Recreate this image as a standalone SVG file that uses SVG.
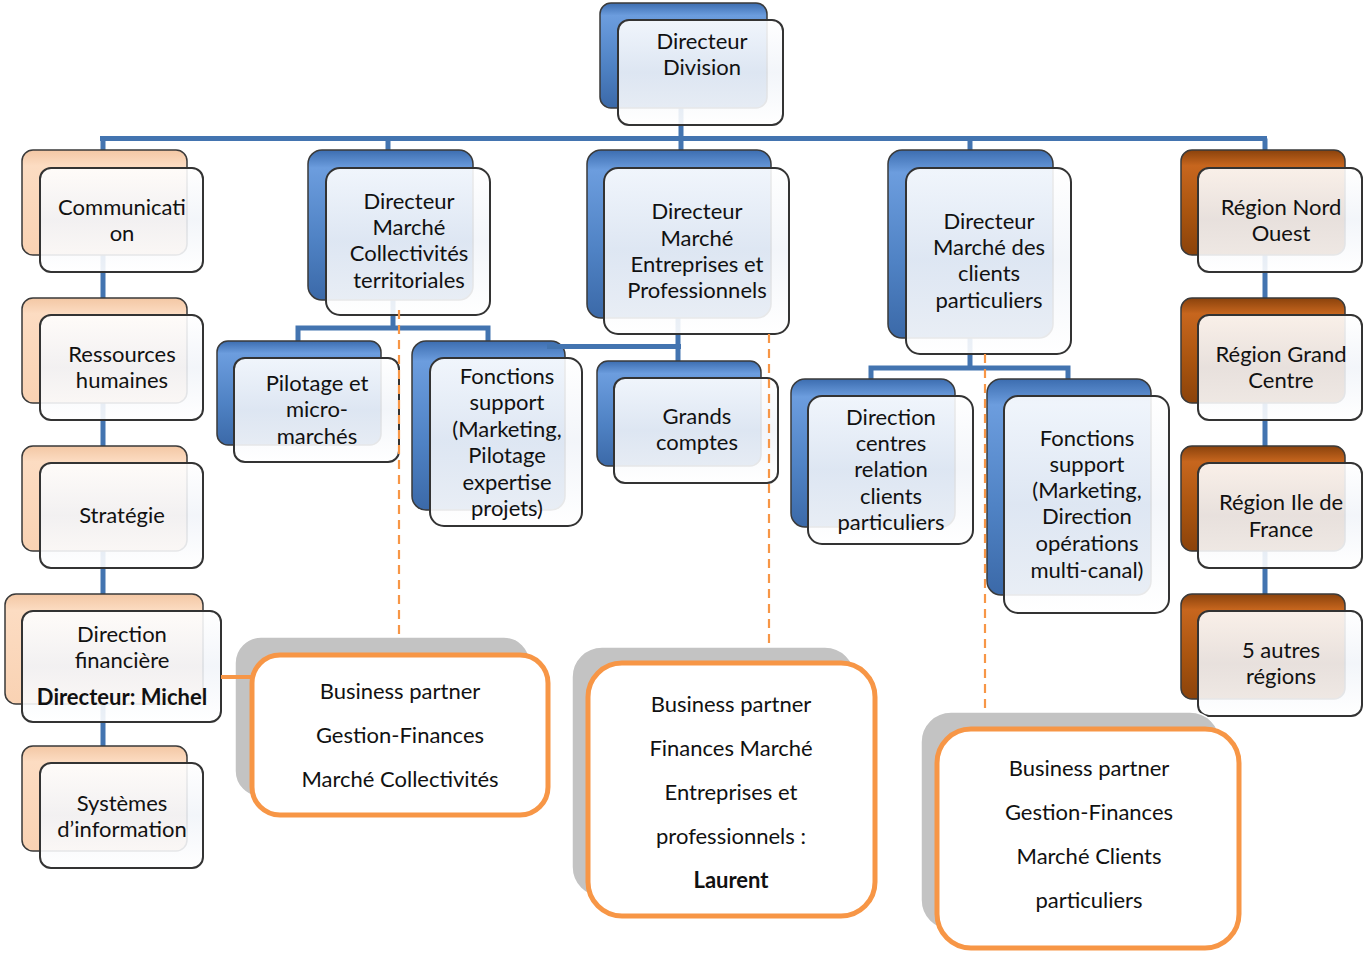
<svg xmlns="http://www.w3.org/2000/svg" width="1365" height="953" viewBox="0 0 1365 953">
<defs>
<linearGradient id="gBlue" x1="0" y1="0" x2="0" y2="1">
<stop offset="0" stop-color="#3c6db0"/><stop offset="0.12" stop-color="#6c9dde"/><stop offset="0.6" stop-color="#4f82c4"/><stop offset="1" stop-color="#3b69a8"/>
</linearGradient>
<linearGradient id="gPeach" x1="0" y1="0" x2="0" y2="1">
<stop offset="0" stop-color="#f3c7a4"/><stop offset="0.15" stop-color="#fcdcc2"/><stop offset="1" stop-color="#f9d2b3"/>
</linearGradient>
<linearGradient id="gBrown" x1="0" y1="0" x2="0" y2="1">
<stop offset="0" stop-color="#8a420c"/><stop offset="0.15" stop-color="#c7661e"/><stop offset="0.6" stop-color="#a9540f"/><stop offset="1" stop-color="#8b430b"/>
</linearGradient>
<linearGradient id="gFront" x1="0" y1="0" x2="0" y2="1">
<stop offset="0" stop-color="#ffffff" stop-opacity="0.9"/><stop offset="0.5" stop-color="#f1f4f9" stop-opacity="0.88"/><stop offset="1" stop-color="#ffffff" stop-opacity="0.9"/>
</linearGradient>
</defs>
<style>
.back{stroke:#3a3a3a;stroke-width:1.5}
.blue{fill:url(#gBlue)}
.peach{fill:url(#gPeach)}
.brown{fill:url(#gBrown)}
.front{fill:url(#gFront);stroke:#333333;stroke-width:2}
text{font-family:Lato,"Open Sans",sans-serif;font-size:22px;fill:#111;text-anchor:middle}
.b{font-weight:bold}
.con{fill:none;stroke:#4374b0;stroke-width:5}
.dash{fill:none;stroke:#f79646;stroke-width:2.2;stroke-dasharray:9,6}
.orl{fill:none;stroke:#f79646;stroke-width:4}
.gback{fill:#c3c3c3;stroke:#ffffff;stroke-width:1.5}
.obox{fill:#ffffff;stroke:#f79646;stroke-width:5}
</style>
<rect width="1365" height="953" fill="#ffffff"/>
<g id="connectors">
<path class="con" d="M100 138.5 H1267"/>
<path class="con" d="M681 108 V150"/>
<path class="con" d="M103 138.5 V763"/>
<path class="con" d="M388 138.5 V150"/>
<path class="con" d="M970 138.5 V150"/>
<path class="con" d="M1265 138.5 V611"/>
<path class="con" d="M393 300 V328"/>
<path class="con" d="M298 341 V328 H488 V341"/>
<path class="con" d="M678 318 V361"/>
<path class="con" d="M970 338 V368"/>
<path class="con" d="M871 379 V368 H1068 V379"/>
</g>
<g id="n-directeur-division">
<rect class="back blue" x="600" y="3" width="167" height="105" rx="11"/>
<rect class="front" x="618" y="20" width="165" height="105" rx="11"/>
<text x="702" y="49">Directeur</text><text x="702" y="75">Division</text>
</g>
<g id="n-communication">
<rect class="back peach" x="22" y="150" width="165" height="105" rx="11"/>
<rect class="front" x="40" y="168" width="163" height="104" rx="11"/>
<text x="122" y="215">Communicati</text><text x="122" y="241">on</text>
</g>
<g id="n-rh">
<rect class="back peach" x="22" y="298" width="165" height="105" rx="11"/>
<rect class="front" x="40" y="315" width="163" height="105" rx="11"/>
<text x="122" y="362">Ressources</text><text x="122" y="388">humaines</text>
</g>
<g id="n-strategie">
<rect class="back peach" x="22" y="446" width="165" height="105" rx="11"/>
<rect class="front" x="40" y="463" width="163" height="105" rx="11"/>
<text x="122" y="523">Stratégie</text>
</g>
<g id="n-direction-financiere">
<rect class="back peach" x="5" y="594" width="198" height="110" rx="11"/>
<rect class="front" x="22" y="611" width="199" height="111" rx="11"/>
<text x="122" y="642">Direction</text><text x="122" y="668">financière</text><text class="b" x="122" y="705">Directeur: Michel</text>
</g>
<g id="n-si">
<rect class="back peach" x="22" y="746" width="165" height="105" rx="11"/>
<rect class="front" x="40" y="763" width="163" height="105" rx="11"/>
<text x="122" y="811">Systèmes</text><text x="122" y="837">d’information</text>
</g>
<g id="n-dm-collectivites">
<rect class="back blue" x="308" y="150" width="165" height="150" rx="14"/>
<rect class="front" x="326" y="168" width="164" height="147" rx="14"/>
<text x="409" y="209">Directeur</text><text x="409" y="235">Marché</text><text x="409" y="261">Collectivités</text><text x="409" y="288">territoriales</text>
</g>
<g id="n-pilotage">
<rect class="back blue" x="217" y="341" width="164" height="104" rx="11"/>
<rect class="front" x="234" y="358" width="165" height="104" rx="11"/>
<text x="317" y="391">Pilotage et</text><text x="317" y="417">micro-</text><text x="317" y="444">marchés</text>
</g>
<g id="n-fonctions-support-1">
<rect class="back blue" x="412" y="341" width="153" height="169" rx="14"/>
<rect class="front" x="430" y="358" width="152" height="168" rx="14"/>
<text x="507" y="384">Fonctions</text><text x="507" y="410">support</text><text x="507" y="437">(Marketing,</text><text x="507" y="463">Pilotage</text><text x="507" y="490">expertise</text><text x="507" y="516">projets)</text>
</g>
<g id="n-dm-entreprises">
<rect class="back blue" x="587" y="150" width="184" height="168" rx="14"/>
<rect class="front" x="604" y="168" width="185" height="166" rx="14"/>
<text x="697" y="219">Directeur</text><text x="697" y="246">Marché</text><text x="697" y="272">Entreprises et</text><text x="697" y="298">Professionnels</text>
</g>
<path class="con" d="M547 346.5 H681"/>
<g id="n-grands-comptes">
<rect class="back blue" x="597" y="361" width="164" height="105" rx="11"/>
<rect class="front" x="614" y="378" width="164" height="105" rx="11"/>
<text x="697" y="424">Grands</text><text x="697" y="450">comptes</text>
</g>
<g id="n-dm-particuliers">
<rect class="back blue" x="888" y="150" width="165" height="188" rx="14"/>
<rect class="front" x="906" y="168" width="165" height="186" rx="14"/>
<text x="989" y="229">Directeur</text><text x="989" y="255">Marché des</text><text x="989" y="281">clients</text><text x="989" y="308">particuliers</text>
</g>
<g id="n-direction-centres">
<rect class="back blue" x="791" y="379" width="164" height="148" rx="14"/>
<rect class="front" x="808" y="396" width="165" height="148" rx="14"/>
<text x="891" y="425">Direction</text><text x="891" y="451">centres</text><text x="891" y="477">relation</text><text x="891" y="504">clients</text><text x="891" y="530">particuliers</text>
</g>
<g id="n-fonctions-support-2">
<rect class="back blue" x="987" y="379" width="164" height="216" rx="14"/>
<rect class="front" x="1004" y="396" width="165" height="217" rx="14"/>
<text x="1087" y="446">Fonctions</text><text x="1087" y="472">support</text><text x="1087" y="498">(Marketing,</text><text x="1087" y="524">Direction</text><text x="1087" y="551">opérations</text><text x="1087" y="578">multi-canal)</text>
</g>
<g id="n-nord-ouest">
<rect class="back brown" x="1181" y="150" width="164" height="105" rx="11"/>
<rect class="front" x="1198" y="168" width="164" height="104" rx="11"/>
<text x="1281" y="215">Région Nord</text><text x="1281" y="241">Ouest</text>
</g>
<g id="n-grand-centre">
<rect class="back brown" x="1181" y="298" width="164" height="105" rx="11"/>
<rect class="front" x="1198" y="315" width="164" height="105" rx="11"/>
<text x="1281" y="362">Région Grand</text><text x="1281" y="388">Centre</text>
</g>
<g id="n-ile-de-france">
<rect class="back brown" x="1181" y="446" width="164" height="105" rx="11"/>
<rect class="front" x="1198" y="463" width="164" height="105" rx="11"/>
<text x="1281" y="510">Région Ile de</text><text x="1281" y="537">France</text>
</g>
<g id="n-autres-regions">
<rect class="back brown" x="1181" y="594" width="164" height="105" rx="11"/>
<rect class="front" x="1198" y="611" width="164" height="105" rx="11"/>
<text x="1281" y="658">5 autres</text><text x="1281" y="684">régions</text>
</g>
<g id="bp-links">
<path class="dash" d="M399 310 V655"/>
<path class="dash" d="M769 334 V663"/>
<path class="dash" d="M985 354 V729"/>
</g>
<g id="bp-collectivites">
<rect class="gback" x="235" y="637" width="295" height="160" rx="26"/>
<path class="orl" d="M221 677 H254"/>
<rect class="obox" x="252" y="655" width="296" height="160" rx="28"/>
<text x="400" y="699">Business partner</text><text x="400" y="743">Gestion-Finances</text><text x="400" y="787">Marché Collectivités</text>
</g>
<g id="bp-entreprises">
<rect class="gback" x="572" y="647" width="283" height="250" rx="30"/>
<rect class="obox" x="588" y="663" width="287" height="253" rx="34"/>
<text x="731" y="712">Business partner</text><text x="731" y="756">Finances Marché</text><text x="731" y="800">Entreprises et</text><text x="731" y="844">professionnels :</text><text class="b" x="731" y="888">Laurent</text>
</g>
<g id="bp-particuliers">
<rect class="gback" x="921" y="712" width="299" height="218" rx="30"/>
<rect class="obox" x="937" y="729" width="302" height="219" rx="34"/>
<text x="1089" y="776">Business partner</text><text x="1089" y="820">Gestion-Finances</text><text x="1089" y="864">Marché Clients</text><text x="1089" y="908">particuliers</text>
</g>
</svg>
